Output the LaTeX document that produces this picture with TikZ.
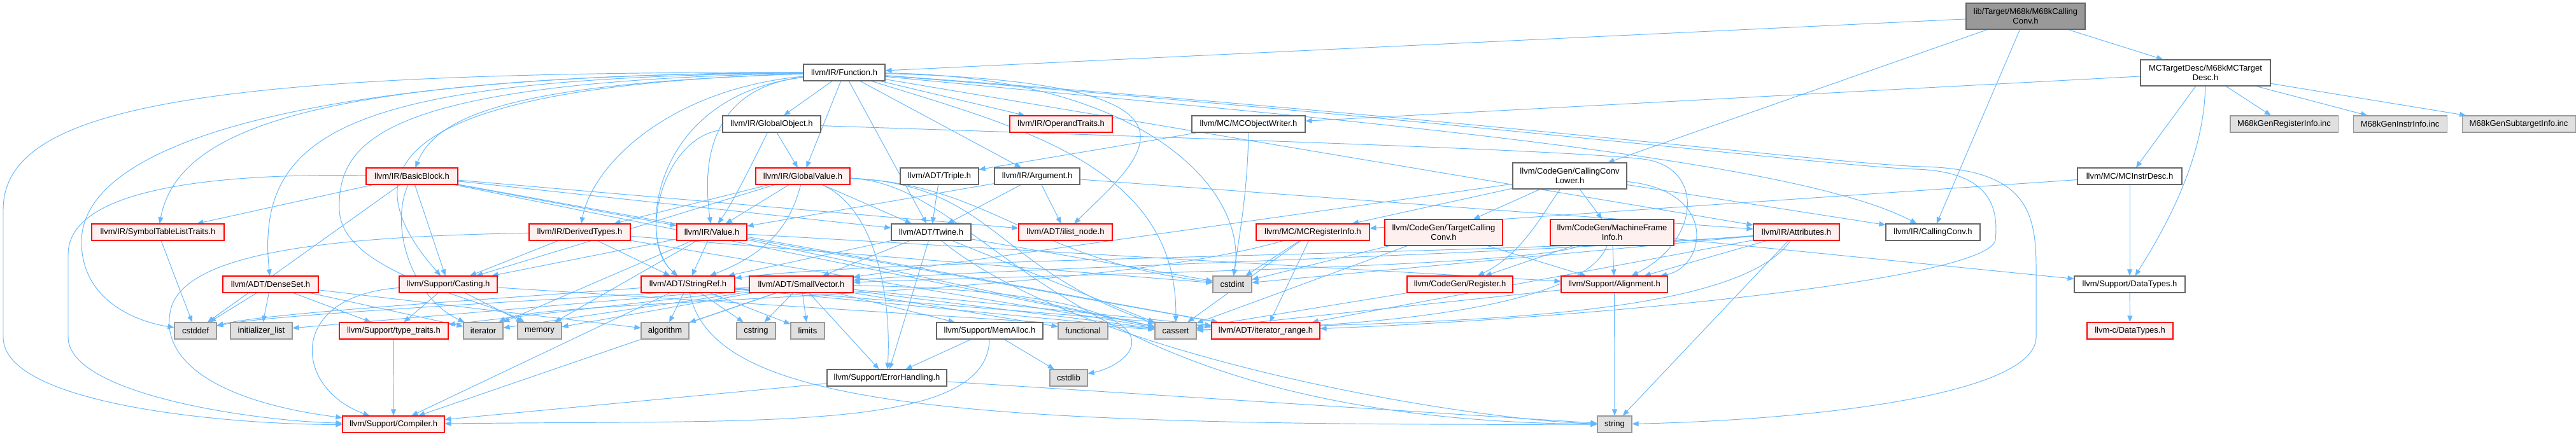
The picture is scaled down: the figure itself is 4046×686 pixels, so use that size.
\documentclass[tikz,border=0pt]{standalone}
\usepackage{fontspec}
\setmainfont{Liberation Sans}
\usetikzlibrary{arrows.meta,backgrounds}
\definecolor{edgec}{HTML}{63B8FF}
\definecolor{redb}{HTML}{FF0000}
\definecolor{redf}{HTML}{FFF0F0}
\definecolor{grayf}{HTML}{E0E0E0}
\definecolor{grayb}{HTML}{999999}
\definecolor{whiteb}{HTML}{666666}
\definecolor{rootf}{HTML}{999999}
\begin{document}
\begin{tikzpicture}[x=1pt,y=-1pt,
 nbox/.style={rectangle, inner sep=0pt, minimum height=26pt, font=\fontsize{13}{15}\selectfont, align=center, line width=1.1pt},
 nw/.style={nbox, draw=whiteb, fill=white},
 nr/.style={nbox, draw=redb, fill=redf},
 ng/.style={nbox, draw=grayb, fill=grayf},
 nroot/.style={nbox, draw=whiteb, fill=rootf},
 ed/.style={draw=edgec, line width=0.95pt, -{Triangle[length=10pt,width=8pt]}},
]
\useasboundingbox (0,0) rectangle (4046,686);
% row 0
\node[nroot, minimum width=187pt, minimum height=41pt] (root) at (3181.5,25.5) {lib/Target/M68k/M68kCalling\\Conv.h};
% row 1
\node[nw, minimum width=128pt] (func) at (1326,114) {llvm/IR/Function.h};
\node[nw, minimum width=204pt, minimum height=41pt] (mctd) at (3464,114.5) {MCTargetDesc/M68kMCTarget\\Desc.h};
% row 2
\node[nw, minimum width=154pt] (gobj) at (1212,195) {llvm/IR/GlobalObject.h};
\node[nr, minimum width=161pt] (optr) at (1666.5,195) {llvm/IR/OperandTraits.h};
\node[nw, minimum width=178pt] (mcow) at (1961,195) {llvm/MC/MCObjectWriter.h};
\node[ng, minimum width=169pt] (greg) at (3587.5,195) {M68kGenRegisterInfo.inc};
\node[ng, minimum width=147pt] (ginstr) at (3769.5,195) {M68kGenInstrInfo.inc};
\node[ng, minimum width=178pt] (gsub) at (3956,195) {M68kGenSubtargetInfo.inc};
% row 3
\node[nr, minimum width=144pt] (bb) at (647,277) {llvm/IR/BasicBlock.h};
\node[nr, minimum width=148pt] (gval) at (1261,277) {llvm/IR/GlobalValue.h};
\node[nw, minimum width=123pt] (triple) at (1475.5,277) {llvm/ADT/Triple.h};
\node[nw, minimum width=134pt] (arg) at (1629,277) {llvm/IR/Argument.h};
\node[nw, minimum width=179pt, minimum height=41pt] (ccl) at (2465.5,276.5) {llvm/CodeGen/CallingConv\\Lower.h};
\node[nw, minimum width=164pt] (mcid) at (3345,277) {llvm/MC/MCInstrDesc.h};
% row 4
\node[nr, minimum width=208pt] (stlt) at (248,365) {llvm/IR/SymbolTableListTraits.h};
\node[nr, minimum width=159pt] (dtypes) at (910.5,365) {llvm/IR/DerivedTypes.h};
\node[nr, minimum width=110pt] (value) at (1118,365) {llvm/IR/Value.h};
\node[nw, minimum width=125pt] (twine) at (1462.5,365) {llvm/ADT/Twine.h};
\node[nr, minimum width=147pt] (ilist) at (1673.5,365) {llvm/ADT/ilist\_node.h};
\node[nr, minimum width=178pt] (mcri) at (2062,365) {llvm/MC/MCRegisterInfo.h};
\node[nr, minimum width=185pt, minimum height=41pt] (tcc) at (2267.5,365.5) {llvm/CodeGen/TargetCalling\\Conv.h};
\node[nr, minimum width=194pt, minimum height=41pt] (mfi) at (2532,365.5) {llvm/CodeGen/MachineFrame\\Info.h};
\node[nr, minimum width=135pt] (attr) at (2821.5,365) {llvm/IR/Attributes.h};
\node[nw, minimum width=148pt] (cconv) at (3036,365) {llvm/IR/CallingConv.h};
% row 5
\node[nr, minimum width=150pt] (dset) at (425,447) {llvm/ADT/DenseSet.h};
\node[nr, minimum width=154pt] (casting) at (704,447) {llvm/Support/Casting.h};
\node[nr, minimum width=147pt] (sref) at (1080.5,447) {llvm/ADT/StringRef.h};
\node[nr, minimum width=163pt] (svec) at (1258.5,447) {llvm/ADT/SmallVector.h};
\node[ng, minimum width=61pt] (cstdint) at (1935.5,447) {cstdint};
\node[nr, minimum width=166pt] (reg) at (2293,447) {llvm/CodeGen/Register.h};
\node[nr, minimum width=167pt] (align) at (2535.5,447) {llvm/Support/Alignment.h};
\node[nw, minimum width=174pt] (dtyp) at (3345,447) {llvm/Support/DataTypes.h};
% row 6
\node[ng, minimum width=66pt] (cstddef) at (307,520) {cstddef};
\node[ng, minimum width=97pt] (initl) at (410.5,520) {initializer\_list};
\node[nr, minimum width=171pt] (ttraits) at (618.5,520) {llvm/Support/type\_traits.h};
\node[ng, minimum width=62pt] (iter) at (759,520) {iterator};
\node[ng, minimum width=69pt] (memory) at (847.5,520) {memory};
\node[ng, minimum width=75pt] (algo) at (1044.5,520) {algorithm};
\node[ng, minimum width=61pt] (cstring) at (1187.5,520) {cstring};
\node[ng, minimum width=53pt] (limits) at (1268.5,520) {limits};
\node[nw, minimum width=167pt] (memalloc) at (1554.5,520) {llvm/Support/MemAlloc.h};
\node[ng, minimum width=78pt] (functional) at (1701,520) {functional};
\node[ng, minimum width=65pt] (cassert) at (1846.5,520) {cassert};
\node[nr, minimum width=170pt] (itrange) at (1988,520) {llvm/ADT/iterator\_range.h};
\node[nr, minimum width=135pt] (cdtyp) at (3345.5,520) {llvm-c/DataTypes.h};
% row 7
\node[nw, minimum width=188pt] (errh) at (1393,594) {llvm/Support/ErrorHandling.h};
\node[ng, minimum width=59pt] (cstdlib) at (1678.5,594) {cstdlib};
% row 8
\node[nr, minimum width=160pt] (compiler) at (618,667) {llvm/Support/Compiler.h};
\node[ng, minimum width=54pt] (string) at (2536,667) {string};

\begin{pgfonlayer}{background}
\fill[white] (0,0) rectangle (4046,686);
% root
\draw[ed] (root) -- (func);
\draw[ed] (root) -- (ccl);
\draw[ed] (root) -- (cconv);
\draw[ed] (root) -- (mctd);
% M68kMCTargetDesc
\draw[ed] (mctd) -- (mcow);
\draw[ed] (mctd) -- (mcid);
\draw[ed] (mctd) .. controls (3462,250) and (3400,360) .. (dtyp);
\draw[ed] (mctd) -- (greg);
\draw[ed] (mctd) -- (ginstr);
\draw[ed] (mctd) -- (gsub);
% MCInstrDesc, MCObjectWriter, Triple
\draw[ed] (mcid) -- (dtyp);
\draw[ed] (mcid) -- (mcri);
\draw[ed] (mcow) -- (triple);
\draw[ed] (mcow) .. controls (1960,300) and (1945,380) .. (cstdint);
\draw[ed] (triple) -- (twine);
\draw[ed] (dtyp) -- (cdtyp);
% Function
\draw[ed] (func) -- (gobj);
\draw[ed] (func) -- (gval);
\draw[ed] (func) -- (optr);
\draw[ed] (func) -- (arg);
\draw[ed] (func) -- (twine);
\draw[ed] (func) -- (attr);
\draw[ed] (func) .. controls (2000,180) and (2800,240) .. (cconv);
\draw[ed] (func) .. controls (1140,135) and (1098,220) .. (value);
\draw[ed] (func) .. controls (1950,130) and (1790,250) .. (ilist);
\draw[ed] (func) .. controls (1800,120) and (1960,300) .. (cstdint);
\draw[ed] (func) .. controls (1600,200) and (1850,260) .. (cassert);
\draw[ed] (func) .. controls (1020,150) and (1000,380) .. (sref);
\draw[ed] (func) .. controls (1050,140) and (930,260) .. (dtypes);
\draw[ed] (func) .. controls (850,130) and (690,170) .. (bb);
\draw[ed] (func) .. controls (650,135) and (530,250) .. (casting);
\draw[ed] (func) .. controls (600,128) and (530,220) .. (533,330) .. controls (536,430) and (760,470) .. (memory);
\draw[ed] (func) .. controls (560,122) and (400,200) .. (dset);
\draw[ed] (func) .. controls (500,118) and (280,200) .. (stlt);
\draw[ed] (func) .. controls (420,116) and (128,240) .. (128,380) .. controls (128,470) and (210,505) .. (cstddef);
\draw[ed] (func) .. controls (300,112) and (5,170) .. (5,330) -- (5,530) .. controls (5,640) and (380,668) .. (compiler);
\draw[ed] (func) .. controls (2300,190) and (2880,262) .. (3010,266) .. controls (3120,270) and (3140,320) .. (3134,377) .. controls (3125,440) and (2500,500) .. (itrange);
\draw[ed] (func) .. controls (2300,185) and (2880,258) .. (3020,262) .. controls (3180,266) and (3198,330) .. (3198,420) -- (3198,530) .. controls (3198,620) and (2850,660) .. (string);
% BasicBlock
\draw[ed] (bb) -- (stlt);
\draw[ed] (bb) -- (cstddef);
\draw[ed] (bb) .. controls (320,272) and (107,300) .. (107,400) -- (107,530) .. controls (107,620) and (400,662) .. (compiler);
\draw[ed] (bb) -- (casting);
\draw[ed] (bb) .. controls (610,360) and (650,470) .. (iter);
\draw[ed] (bb) -- (twine);
\draw[ed] (bb) -- (ilist);
\draw[ed] (bb) -- (itrange);
\draw[ed] (bb) -- (value);
\draw[ed] (bb) -- (cassert);
% GlobalObject
\draw[ed] (gobj) -- (gval);
\draw[ed] (gobj) .. controls (1180,260) and (1150,320) .. (value);
\draw[ed] (gobj) .. controls (1040,215) and (1000,380) .. (sref);
\draw[ed] (gobj) .. controls (1800,215) and (2450,235) .. (2580,250) .. controls (2680,262) and (2670,380) .. (align);
% GlobalValue
\draw[ed] (gval) -- (value);
\draw[ed] (gval) -- (dtypes);
\draw[ed] (gval) .. controls (1240,360) and (1200,400) .. (sref);
\draw[ed] (gval) -- (twine);
\draw[ed] (gval) -- (casting);
\draw[ed] (gval) .. controls (1380,330) and (1400,480) .. (errh);
\draw[ed] (gval) .. controls (1560,290) and (1560,420) .. (cassert);
\draw[ed] (gval) .. controls (1560,290) and (1620,410) .. (cstdint);
\draw[ed] (gval) .. controls (1560,290) and (1650,660) .. (string);
% Argument
\draw[ed] (arg) -- (twine);
\draw[ed] (arg) -- (attr);
\draw[ed] (arg) -- (value);
\draw[ed] (arg) -- (ilist);
% SymbolTableListTraits, DerivedTypes
\draw[ed] (stlt) -- (cstddef);
\draw[ed] (dtypes) -- (sref);
\draw[ed] (dtypes) -- (casting);
\draw[ed] (dtypes) .. controls (500,372) and (300,400) .. (270,480) .. controls (245,560) and (330,630) .. (compiler);
\draw[ed] (dtypes) -- (cassert);
\draw[ed] (dtypes) -- (cstdint);
% Value
\draw[ed] (value) -- (sref);
\draw[ed] (value) -- (casting);
\draw[ed] (value) -- (itrange);
\draw[ed] (value) -- (align);
\draw[ed] (value) -- (cassert);
\draw[ed] (value) -- (iter);
\draw[ed] (value) -- (memory);
% Twine
\draw[ed] (twine) -- (svec);
\draw[ed] (twine) -- (sref);
\draw[ed] (twine) -- (errh);
\draw[ed] (twine) -- (cassert);
\draw[ed] (twine) -- (cstdint);
\draw[ed] (twine) .. controls (1700,560) and (2300,660) .. (string);
% DenseSet
\draw[ed] (dset) -- (ttraits);
\draw[ed] (dset) -- (cstddef);
\draw[ed] (dset) -- (initl);
\draw[ed] (dset) -- (iter);
\draw[ed] (dset) -- (algo);
% Casting
\draw[ed] (casting) .. controls (450,465) and (460,610) .. (compiler);
\draw[ed] (casting) -- (ttraits);
\draw[ed] (casting) -- (cassert);
\draw[ed] (casting) -- (memory);
% StringRef
\draw[ed] (sref) -- (itrange);
\draw[ed] (sref) -- (compiler);
\draw[ed] (sref) -- (algo);
\draw[ed] (sref) -- (cassert);
\draw[ed] (sref) .. controls (750,472) and (420,492) .. (cstddef);
\draw[ed] (sref) -- (cstring);
\draw[ed] (sref) -- (limits);
\draw[ed] (sref) .. controls (1120,640) and (1500,670) .. (string);
% SmallVector
\draw[ed] (svec) -- (itrange);
\draw[ed] (svec) -- (compiler);
\draw[ed] (svec) -- (errh);
\draw[ed] (svec) -- (memalloc);
\draw[ed] (svec) -- (ttraits);
\draw[ed] (svec) -- (algo);
\draw[ed] (svec) -- (cassert);
\draw[ed] (svec) .. controls (800,475) and (420,495) .. (cstddef);
\draw[ed] (svec) .. controls (1900,460) and (1790,570) .. (cstdlib);
\draw[ed] (svec) -- (cstring);
\draw[ed] (svec) -- (functional);
\draw[ed] (svec) -- (initl);
\draw[ed] (svec) -- (iter);
\draw[ed] (svec) -- (limits);
\draw[ed] (svec) -- (memory);
% MemAlloc, ErrorHandling, type_traits
\draw[ed] (memalloc) .. controls (1550,680) and (1200,660) .. (compiler);
\draw[ed] (memalloc) -- (errh);
\draw[ed] (memalloc) -- (cstdlib);
\draw[ed] (errh) -- (compiler);
\draw[ed] (errh) -- (string);
\draw[ed] (ttraits) -- (compiler);
% CallingConvLower
\draw[ed] (ccl) -- (svec);
\draw[ed] (ccl) -- (mfi);
\draw[ed] (ccl) .. controls (2420,340) and (2390,400) .. (reg);
\draw[ed] (ccl) -- (tcc);
\draw[ed] (ccl) -- (cconv);
\draw[ed] (ccl) -- (mcri);
\draw[ed] (ccl) .. controls (2700,300) and (2680,420) .. (align);
% MCRegisterInfo
\draw[ed] (mcri) -- (itrange);
\draw[ed] (mcri) -- (cassert);
\draw[ed] (mcri) -- (cstdint);
\draw[ed] (mcri) .. controls (1700,470) and (850,470) .. (iter);
% TargetCallingConv
\draw[ed] (tcc) -- (align);
\draw[ed] (tcc) -- (cassert);
\draw[ed] (tcc) -- (cstdint);
% MachineFrameInfo
\draw[ed] (mfi) .. controls (2400,420) and (1700,430) .. (svec);
\draw[ed] (mfi) -- (reg);
\draw[ed] (mfi) -- (align);
\draw[ed] (mfi) .. controls (2480,500) and (2050,515) .. (cassert);
\draw[ed] (mfi) -- (dtyp);
% Register, Alignment
\draw[ed] (reg) -- (cassert);
\draw[ed] (align) -- (cassert);
\draw[ed] (align) -- (string);
% Attributes
\draw[ed] (attr) .. controls (2400,400) and (1600,420) .. (svec);
\draw[ed] (attr) .. controls (2400,400) and (1400,405) .. (sref);
\draw[ed] (attr) -- (align);
\draw[ed] (attr) .. controls (2720,510) and (2200,505) .. (cassert);
\draw[ed] (attr) -- (cstdint);
\draw[ed] (attr) -- (string);
\draw[ed] (attr) -- (itrange);
\end{pgfonlayer}
\end{tikzpicture}
\end{document}
